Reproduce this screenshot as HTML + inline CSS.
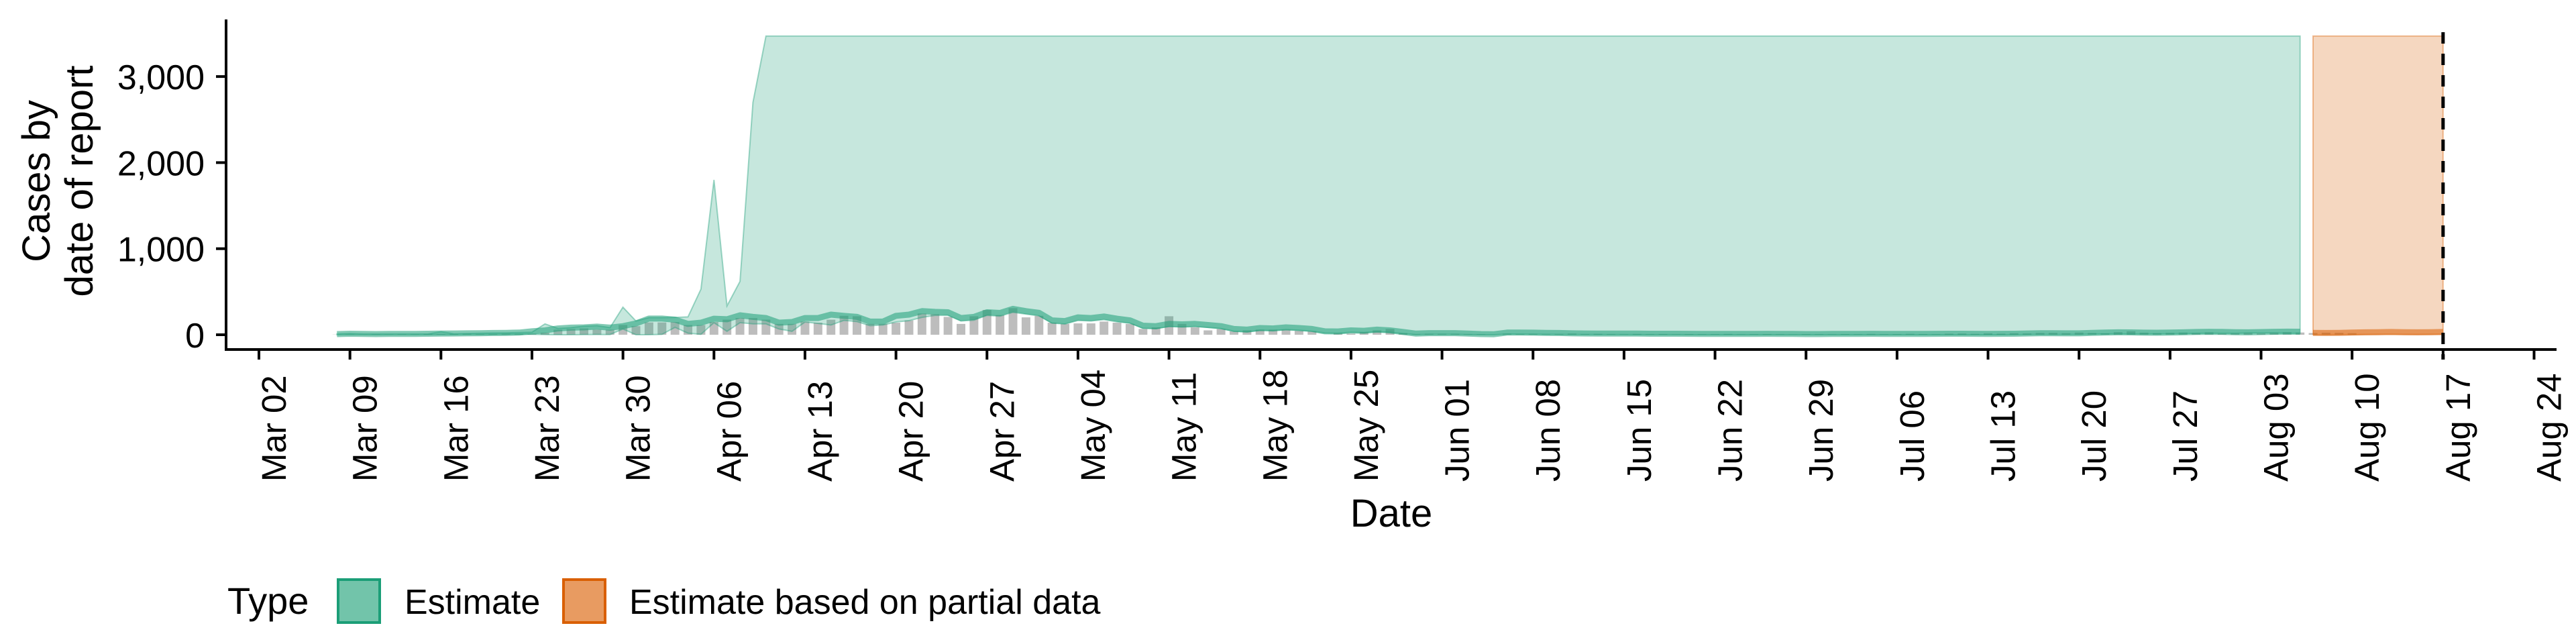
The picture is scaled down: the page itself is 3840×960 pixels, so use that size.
<!DOCTYPE html>
<html><head><meta charset="utf-8">
<style>
html,body{margin:0;padding:0;background:#fff;}
svg{display:block;font-family:"Liberation Sans",Arial,sans-serif;}
</style></head>
<body>
<svg id="chart" width="3840" height="960" viewBox="0 0 3840 960" xmlns="http://www.w3.org/2000/svg">
  <g id="bars"></g>
  <g id="bands"></g>
  <g id="axes"></g>
  <text transform="translate(88,270) rotate(-90)" font-size="58" text-anchor="middle"><tspan x="0" dy="-14">Cases by</tspan><tspan x="0" dy="64">date of report</tspan></text>
  <text x="2074" y="785" font-size="58" text-anchor="middle">Date</text>
  <g>
    <text x="339" y="915" font-size="56">Type</text>
    <rect x="504" y="864" width="62" height="64" fill="#72c4aa" stroke="#1b9e77" stroke-width="4"/>
    <text x="603" y="915" font-size="52">Estimate</text>
    <rect x="840" y="864" width="62" height="64" fill="#e89b61" stroke="#d95f02" stroke-width="4"/>
    <text x="938" y="915" font-size="52">Estimate based on partial data</text>
  </g>
</svg>
<script>
// Day index 0 = Mar 02
const estStartDay = 6;
const upperEst = [10,15,10,10,10,10,10,10,35,12,15,18,20,22,25,
30,126,73,83,100,105,83,320,160,199,199,202,207,530,1800,335,620,2700,
3471,3471,3471,3471,3471,3471,3471,3471,3471,3471,3471,3471,3471,3471,3471,3471,3471,3471,3471,3471,
3471,3471,3471,3471,3471,3471,3471,3471,3471,3471,3471,3471,3471,3471,3471,3471,3471,3471,3471,3471,
3471,3471,3471,3471,3471,3471,3471,3471,3471,3471,3471,3471,3471,3471,3471,3471,3471,3471,3471,3471,
3471,3471,3471,3471,3471,3471,3471,3471,3471,3471,3471,3471,3471,3471,3471,3471,3471,3471,3471,3471,
3471,3471,3471,3471,3471,3471,3471,3471,3471,3471,3471,3471,3471,3471,3471,3471,3471,3471,3471,3471,
3471,3471,3471,3471,3471,3471,3471,3471,3471,3471,3471,3471,3471,3471,3471,3471,3471,3471,3471];
const lowerEst = [0,2,1,0,1,2,1,2,3,2,4,3,4,5,6,
5,2,0,0,2,3,2,67,0,0,5,86,19,5,140,40,140,126,126,67,40,148,132,113,167,153,105,113,148,164,202,
225,225,160,170,225,215,260,240,220,135,125,165,160,175,150,135,75,70,95,90,95,85,72,42,35,52,48,60,52,42,20,18,30,25,36,30,14,2,5,5,5,2,0,0,
8,8,6,5,4,3,3,2,2,2,1,1,1,1,0,0,0,0,0,0,0,0,0,0,0,0,0,0,0,0,0,0,0,0,0,0,0,0,0,1,3,5,4,4,4,8,10,12,10,9,10,12,14,16,18,18,16,20,22,20,18,18];
const medianEst = [8,12,10,8,9,10,10,12,14,15,16,18,20,22,25,
40,51,73,83,86,94,83,100,132,188,188,175,126,140,186,180,226,207,194,140,148,194,194,234,220,207,153,153,220,234,274,
266,261,194,207,261,253,301,274,255,167,159,202,194,212,186,167,105,100,126,121,126,113,100,67,59,78,73,86,78,67,40,38,51,46,59,51,32,13,19,19,19,13,8,6,
25,26,24,22,20,16,15,14,14,13,13,12,12,12,11,
10,10,9,9,10,11,10,9,8,8,9,10,10,11,10,9,9,10,11,12,12,11,10,11,12,
15,18,17,16,16,22,26,28,27,24,23,26,28,32,34,33,30,28,31,34,36,35];
const partStartDay = 158;
const upperPart = [3471,3471,3471,3471,3471,3471,3471,3471,3471,3471,3471];
const lowerPart = [2,2,3,3,4,5,5,4,4,5,6];
const medianPart = [22,20,22,25,28,30,32,30,28,30,32];
const barStartDay = 6;
const reported = [2,3,2,4,3,5,4,8,6,8,10,7,9,12,10,
11,24,59,67,73,59,59,113,100,143,143,148,113,113,148,175,194,194,175,126,126,153,140,175,220,215,126,126,140,
167,247,239,207,126,215,288,229,309,202,220,140,126,132,132,153,140,126,67,86,215,126,86,51,67,40,51,59,59,59,46,40,0,19,13,32,51,67,19,5,11,11,11,5,5,0,
12,8,10,6,9,14,8,10,7,5,9,6,8,4,7,5,6,9,4,6,8,5,3,7,6,4,8,5,9,6,7,10,8,5,12,14,10,16,12,18,15,20,22,18,25,20,16,30,40,24,18,22,26,20,28,
14,18,22,16,25,30,26,20,24,22,18];
const yTicks = [0,1000,2000,3000];
const yTickLabels = ["0","1,000","2,000","3,000"];
const xTickDays = [0,7,14,21,28,35,42,49,56,63,70,77,84,91,98,105,112,119,126,133,140,147,154,161,168,175];
const xTickLabels = ["Mar 02","Mar 09","Mar 16","Mar 23","Mar 30","Apr 06","Apr 13","Apr 20","Apr 27","May 04","May 11","May 18","May 25","Jun 01","Jun 08","Jun 15","Jun 22","Jun 29","Jul 06","Jul 13","Jul 20","Jul 27","Aug 03","Aug 10","Aug 17","Aug 24"];
const forecastDay = 168;

const NS = "http://www.w3.org/2000/svg";
function xs(d){return 386 + d*19.38;}
function ys(v){return 499 - v*0.1283;}
function mk(tag, attrs, parent){const e=document.createElementNS(NS,tag);for(const k in attrs)e.setAttribute(k,attrs[k]);parent.appendChild(e);return e;}

const gBars=document.getElementById('bars');
reported.forEach((v,i)=>{
  const d=barStartDay+i;
  const r=mk('rect',{x:xs(d)-6.5,y:ys(v),width:13,height:Math.max(0,ys(0)-ys(v)),fill:'#bdbdbd'},gBars);
  
  
});

const gB=document.getElementById('bands');
function band(start, up, lo, fill, name){
  let p='';
  up.forEach((v,i)=>{p+=(i?'L':'M')+xs(start+i).toFixed(1)+','+ys(v).toFixed(1);});
  for(let i=lo.length-1;i>=0;i--){p+='L'+xs(start+i).toFixed(1)+','+ys(lo[i]).toFixed(1);}
  p+='Z';
  const e=mk('path',{d:p,fill:fill,'fill-opacity':0.25,stroke:fill,'stroke-opacity':0.4,'stroke-width':2},gB);
  
  
}
function line(start, vals, col, name){
  let p='';
  vals.forEach((v,i)=>{p+=(i?'L':'M')+xs(start+i).toFixed(1)+','+ys(v).toFixed(1);});
  const e=mk('path',{d:p,fill:'none',stroke:col,'stroke-opacity':0.55,'stroke-width':9,'stroke-linejoin':'round'},gB);
  
  
}
band(estStartDay, upperEst, lowerEst, '#1b9e77', 'estimate-band');
line(estStartDay, medianEst, '#1b9e77', 'estimate-median');
band(partStartDay, upperPart, lowerPart, '#d95f02', 'partial-band');
line(partStartDay, medianPart, '#d95f02', 'partial-median');

const gA=document.getElementById('axes');
let e;
e=mk('line',{x1:337,y1:29,x2:337,y2:523,stroke:'#000','stroke-width':4},gA);


e=mk('line',{x1:335,y1:521,x2:3811,y2:521,stroke:'#000','stroke-width':4},gA);


yTicks.forEach((v,i)=>{
  const t=mk('line',{x1:322,y1:ys(v),x2:337,y2:ys(v),stroke:'#000','stroke-width':4},gA);
  
  
  const l=mk('text',{x:305,y:ys(v)+19,'font-size':52,'text-anchor':'end'},gA);
  l.textContent=yTickLabels[i];
  
  
});
xTickDays.forEach((d,i)=>{
  const x=xs(d);
  const t=mk('line',{x1:x,y1:521,x2:x,y2:536,stroke:'#000','stroke-width':4},gA);
  
  
  const l=mk('text',{transform:'translate('+(x+40)+',718) rotate(-90)','font-size':51,'text-anchor':'start'},gA);
  l.textContent=xTickLabels[i];
  
  
});
e=mk('line',{x1:xs(forecastDay),y1:48,x2:xs(forecastDay),y2:536,stroke:'#000','stroke-width':5,'stroke-dasharray':'17,15'},gA);


</script>
</body></html>
